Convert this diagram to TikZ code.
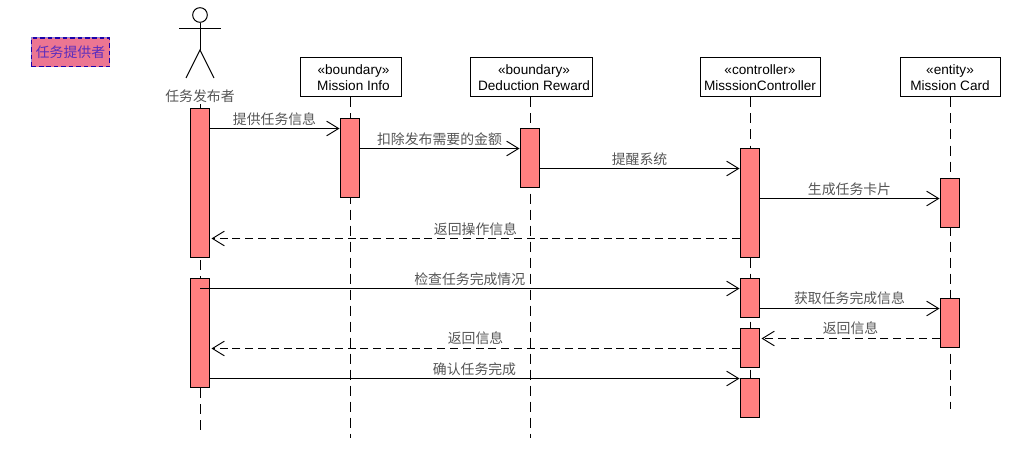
\documentclass[tikz,border=0pt]{standalone}
\usepackage{fontspec}
\setmainfont{Liberation Sans}
\newfontfamily\cjk{Noto Sans CJK SC}
\usetikzlibrary{arrows.meta}
\definecolor{actfill}{RGB}{255,128,128}
\definecolor{legfill}{RGB}{236,118,146}
\definecolor{legedge}{RGB}{140,130,215}
\definecolor{legtext}{RGB}{90,45,190}
\definecolor{legline}{RGB}{30,0,170}
\definecolor{msgtext}{RGB}{85,85,85}
\tikzset{
  x=0.75pt,y=-0.75pt,
  lifeline/.style={draw=black,line width=0.75pt,dash pattern=on 7.5pt off 4.5pt},
  head/.style={draw=black,fill=white,line width=0.75pt,inner sep=0pt,font=\fontsize{10.2pt}{12pt}\selectfont,align=center},
  act/.style={draw=black,fill=actfill,line width=0.75pt,inner sep=0pt,minimum width=14.25pt},
  msg/.style={draw=black,line width=0.75pt,-{Straight Barb[length=9pt,width=11pt,line width=0.7pt]}},
  ret/.style={msg,dash pattern=on 6pt off 3.6pt},
  lab/.style={font=\cjk\fontsize{10.4pt}{11pt}\selectfont,text=msgtext,inner sep=0pt},
  stick/.style={draw=black,line width=0.75pt}
}
\newcommand{\headbox}[6]{\node[head,minimum width=#2*0.75pt,minimum height=29.25pt] (#1) at (#3,77.5) {\hspace*{#6}«#4»\\\hspace*{#6}#5};}
\newcommand{\actbox}[4]{\node[act,minimum height=(#4-#3)*0.75pt] (#1) at (#2,{(#3+#4)/2}) {};}
\begin{document}
\begin{tikzpicture}
\useasboundingbox (0,0) rectangle (1012,449);
% legend
\node[draw=legline,fill=legfill,preaction={draw=legedge,line width=0.8pt,solid},line width=0.8pt,dash pattern=on 3.4pt off 2.2pt,minimum width=58.5pt,minimum height=21.7pt,inner sep=0pt,text=legtext,font=\cjk\fontsize{10.4pt}{11pt}\selectfont] (legend) at (70.5,52.5) {任务提供者};
% heads
\headbox{h1}{101}{350.5}{boundary}{Mission Info}{4.5pt}
\headbox{h2}{122}{531}{boundary}{Deduction Reward}{4.5pt}
\headbox{h3}{120}{760}{controller}{MisssionController}{0pt}
\headbox{h4}{100}{950}{entity}{Mission Card}{0pt}
% actor
\node[draw=black,line width=0.75pt,circle,minimum size=11pt,inner sep=0pt] (ahead) at (200,15) {};
\coordinate (hip) at (200,50);
\coordinate (larm) at (179,29);
\coordinate (rarm) at (221,29);
\coordinate (lfoot) at (186,78);
\coordinate (rfoot) at (214,78);
\draw[stick] (ahead.south) -- (hip);
\draw[stick] (larm) -- (rarm);
\draw[stick] (lfoot) -- (hip) -- (rfoot);
% lifeline ends
\coordinate (e0) at (200,436);
\coordinate (e1) at (350,438);
\coordinate (e2) at (530,438);
\coordinate (e3) at (750,410);
\coordinate (e4) at (950,409);
\coordinate (s0) at (200,100);
\draw[lifeline] (s0) -- (e0);
\draw[lifeline] (h1.south -| e1) -- (e1);
\draw[lifeline] (h2.south -| e2) -- (e2);
\draw[lifeline] (h3.south -| e3) -- (e3);
\draw[lifeline] (h4.south -| e4) -- (e4);
\node[lab,fill=white,inner ysep=1pt] (alabel) at (200,96) {任务发布者};
% activations
\actbox{a1}{199.5}{108.5}{257.5}
\actbox{a2}{199.5}{278.5}{387.5}
\actbox{b1}{349.5}{118.5}{197.5}
\actbox{c1}{529.5}{128.5}{187.5}
\actbox{d1}{749.5}{148.5}{257.5}
\actbox{d2}{749.5}{278.5}{317.5}
\actbox{d3}{749.5}{328.5}{367.5}
\actbox{d4}{749.5}{378.5}{417.5}
\actbox{f1}{949.5}{178.5}{227.5}
\actbox{f2}{949.5}{298.5}{347.5}
% messages
\coordinate (a2in) at (200,288.5);
\draw[msg] (a1.east |- 0,128.5) -- node[lab,pos=0.5,yshift=6.9pt] (m1) {提供任务信息} (b1.west |- 0,128.5);
\draw[msg] (b1.east |- 0,148.5) -- node[lab,pos=0.5,yshift=6.9pt] (m2) {扣除发布需要的金额} (c1.west |- 0,148.5);
\draw[msg] (c1.east |- 0,168.5) -- node[lab,pos=0.5,yshift=6.9pt] (m3) {提醒系统} (d1.west |- 0,168.5);
\draw[msg] (d1.east |- 0,198.5) -- node[lab,pos=0.5,yshift=6.9pt] (m4) {生成任务卡片} (f1.west |- 0,198.5);
\draw[ret] (d1.west |- 0,238.5) -- node[lab,pos=0.5,yshift=6.9pt] (m5) {返回操作信息} ([xshift=1.5pt]a1.east |- 0,238.5);
\draw[msg] (a2in) -- node[lab,pos=0.5,yshift=6.9pt] (m6) {检查任务完成情况} (d2.west |- a2in);
\draw[msg] (d2.east |- 0,308.5) -- node[lab,pos=0.5,yshift=7.5pt] (m7) {获取任务完成信息} (f2.west |- 0,308.5);
\draw[ret] (f2.west |- 0,338.5) -- node[lab,pos=0.5,yshift=7.5pt] (m8) {返回信息} ([xshift=1.5pt]d3.east |- 0,338.5);
\draw[ret] (d3.west |- 0,348.5) -- node[lab,pos=0.5,yshift=7.5pt] (m9) {返回信息} ([xshift=1.5pt]a2.east |- 0,348.5);
\draw[msg] (a2.east |- 0,378.5) -- node[lab,pos=0.5,yshift=6.9pt] (m10) {确认任务完成} (d4.west |- 0,378.5);
\end{tikzpicture}
\end{document}
